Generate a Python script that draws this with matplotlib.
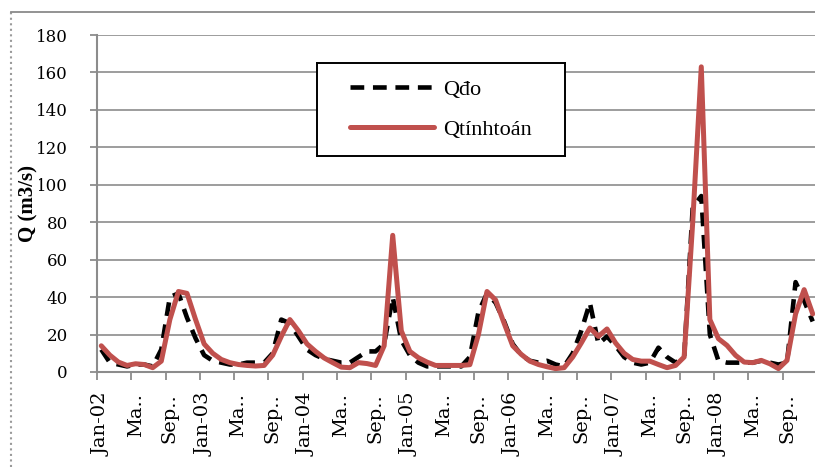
import numpy as np
import matplotlib.pyplot as plt
from matplotlib.lines import Line2D

# monthly discharge, Jan-2002 .. Dec-2008 (one row per year)
q_do = [
    12, 5, 4, 3, 4, 4, 3, 12, 40, 42, 29, 18,
    9, 6, 5, 4, 4, 5, 5, 5, 10, 28, 26, 19,
    12, 9, 7, 6, 5, 5, 8, 11, 11, 15, 40, 17,
    9, 5, 3, 3, 3, 3, 3, 8, 32, 42, 37, 27,
    15, 9, 6, 5, 6, 4, 3, 10, 22, 37, 15, 19,
    14, 8, 5, 4, 5, 13, 8, 5, 8, 88, 94, 20,
    6, 5, 5, 5, 5, 6, 5, 4, 5, 48, 38, 27,
]
q_tinh = [
    14, 9, 5.3, 3.5, 4.4, 4, 2.3, 5.8, 28, 43, 42, 28,
    15, 10, 6.7, 5, 4, 3.5, 3.2, 3.5, 9, 19, 28, 22,
    15, 11, 7.5, 5, 2.6, 2.3, 5, 4.5, 3.5, 14, 73, 22,
    11, 7.6, 5.3, 3.5, 3.5, 3.5, 3.5, 3.9, 20, 43, 38.5, 26,
    14, 9.4, 5.8, 4, 2.8, 1.8, 2.3, 8, 15.5, 23.5, 19, 23,
    15.5, 10, 6.7, 5.8, 5.8, 4, 2.3, 3.5, 8, 80, 163, 28,
    17.8, 14.2, 8.9, 5.3, 5, 6.2, 4.4, 1.8, 6.2, 31, 44, 31,
]
tick_labels = [
    'Jan-02', 'Ma..', 'Sep..', 'Jan-03', 'Ma..', 'Sep..', 'Jan-04', 'Ma..',
    'Sep..', 'Jan-05', 'Ma..', 'Sep..', 'Jan-06', 'Ma..', 'Sep..', 'Jan-07',
    'Ma..', 'Sep..', 'Jan-08', 'Ma..', 'Sep..',
]
y_ticks = [0, 20, 40, 60, 80, 100, 120, 140, 160, 180]

W, H = 815, 467
GRAY = '#8c8c8c'
RED = '#c0504d'

months = np.arange(len(q_do))

fig = plt.figure(figsize=(W / 100, H / 100), dpi=100)

# chart frame (left and top edges only)
fig.add_artist(Line2D([11 / W, 11 / W], [0, 1 - 12 / H], transform=fig.transFigure,
                      color='#9a9a9a', lw=1.5, ls=':'))
fig.add_artist(Line2D([11 / W, 1], [1 - 12 / H, 1 - 12 / H], transform=fig.transFigure,
                      color='#8a8a8a', lw=1.3))

ax = fig.add_axes([97 / W, 1 - 372 / H, 720 / W, 337 / H])
l_do, = ax.plot(months, q_do, color='black', lw=3.3, dashes=(3.0, 1.9),
                label='Qđo', zorder=3)
l_tinh, = ax.plot(months, q_tinh, color=RED, lw=3.6, label='Qtínhtoán',
                  zorder=4, solid_joinstyle='round', solid_capstyle='round')

ax.set_xlim(-0.5, len(months) - 0.5)
ax.set_ylim(0, 180)
ax.set_yticks(y_ticks)
ax.yaxis.grid(True, color=GRAY, lw=1.2)
ax.set_axisbelow(True)

for side in ['top', 'right']:
    ax.spines[side].set_visible(False)
for side in ['left', 'bottom']:
    ax.spines[side].set_color(GRAY)
    ax.spines[side].set_linewidth(1.5)

# tick marks sit between categories, labels on the category centres
ax.set_xticks(np.arange(-0.5, len(months) + 0.5, 4))
ax.set_xticklabels([])
ax.set_xticks(months[::4], minor=True)
ax.set_xticklabels(tick_labels, minor=True, rotation=90, ha='center', va='top',
                   family='DejaVu Serif', fontsize=14)
ax.tick_params(axis='x', which='major', length=6, width=1.3, color=GRAY)
ax.tick_params(axis='x', which='minor', length=0, pad=15)
ax.tick_params(axis='y', length=5, width=1.3, color=GRAY, pad=16)
for lab in ax.get_yticklabels():
    lab.set_family('DejaVu Serif')
    lab.set_fontsize(12)

fig.text(28 / W, 1 - 204 / H, 'Q (m3/s)', rotation=90, ha='center', va='center',
         family='Liberation Serif', fontweight='bold', fontsize=15,
         bbox=dict(facecolor='white', edgecolor='none', pad=1), zorder=5)

# legend in its own framed box
leg_ax = fig.add_axes([317 / W, 1 - 156 / H, 248 / W, 93 / H])
leg_ax.set_xticks([])
leg_ax.set_yticks([])
for sp in leg_ax.spines.values():
    sp.set_color('black')
    sp.set_linewidth(1.4)
leg_ax.legend([l_do, l_tinh], ['Qđo', 'Qtínhtoán'], loc='center', frameon=False,
              prop={'family': 'Liberation Serif', 'size': 16},
              handlelength=3.8, handletextpad=0.4, labelspacing=0.9)

fig.savefig('out.png', dpi=100)
